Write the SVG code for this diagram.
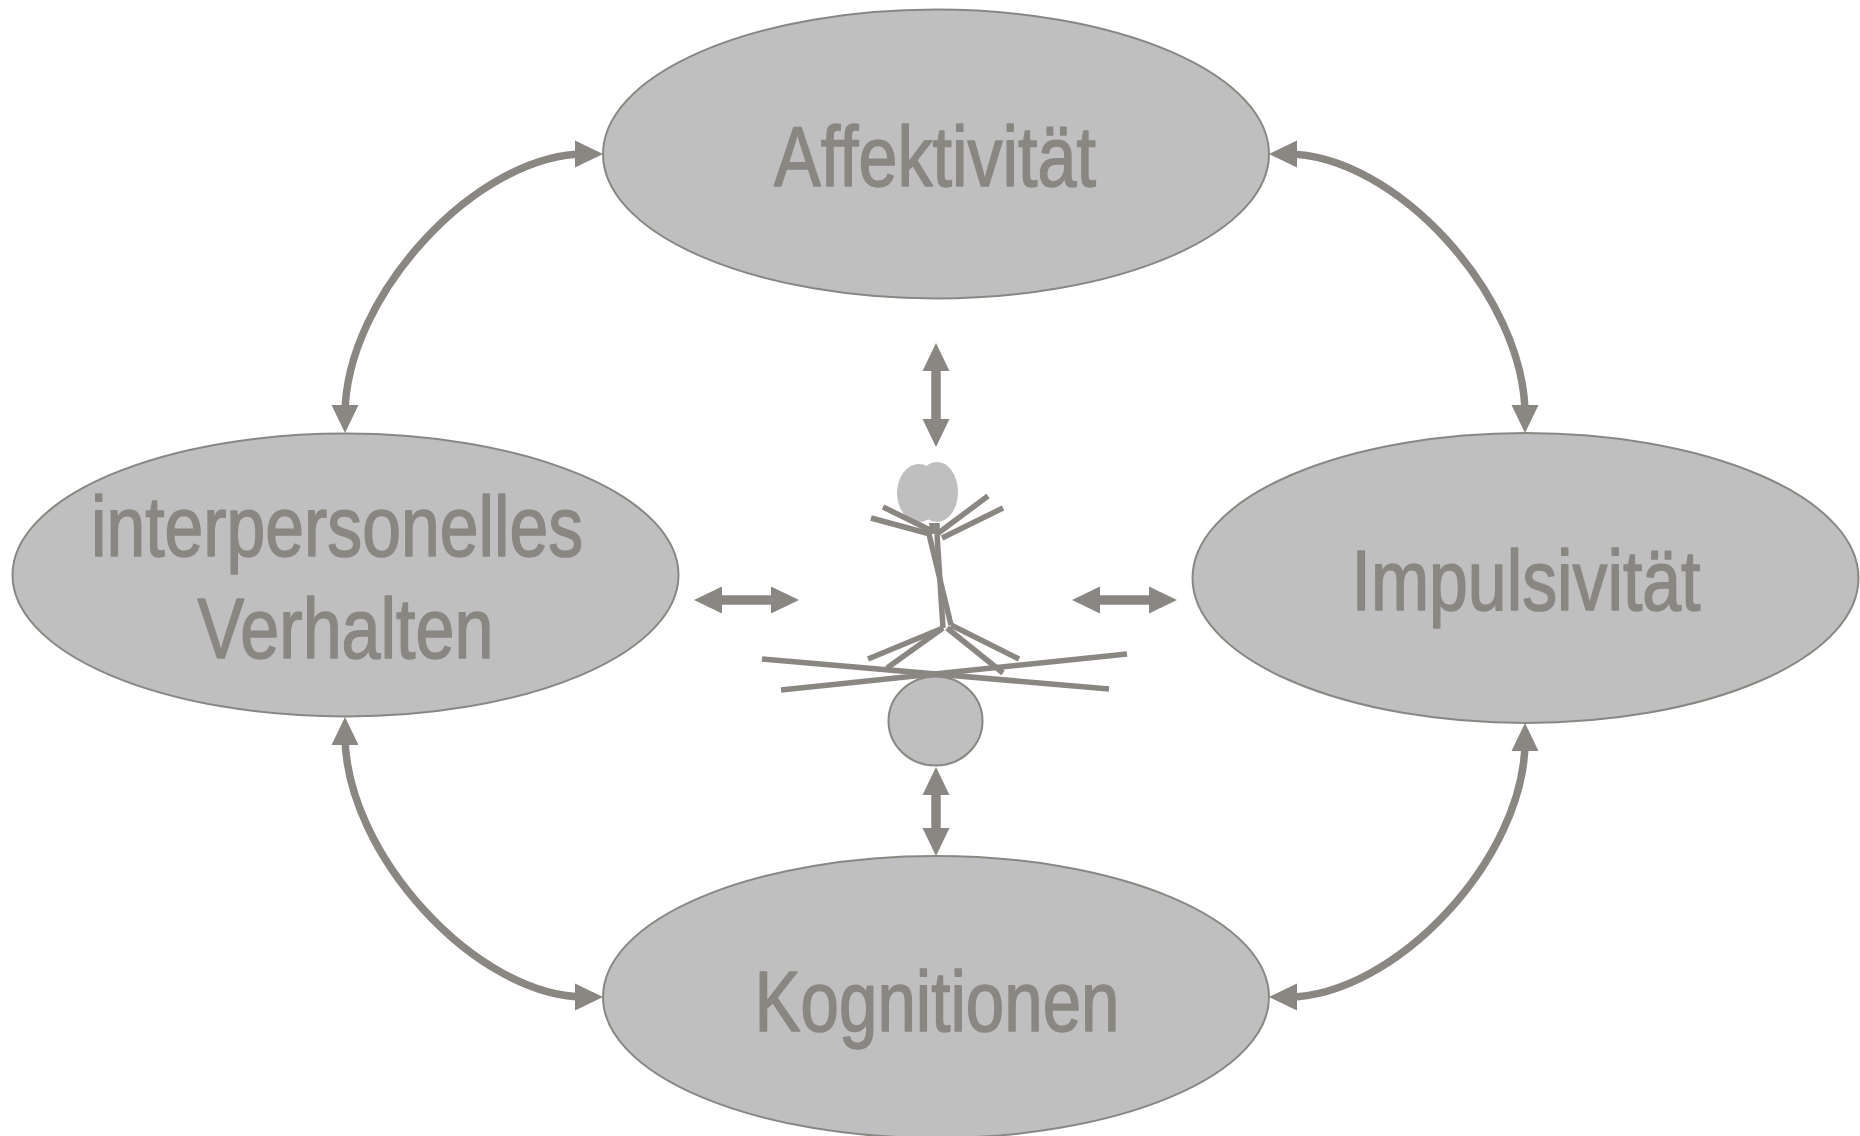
<svg xmlns="http://www.w3.org/2000/svg" width="1860" height="1136" viewBox="0 0 1860 1136">
  <style>
    .node { fill: #bfbfbf; stroke: #8a8782; stroke-width: 2; }
    .label { fill: #8a8782; stroke: #8a8782; stroke-width: 1.6; stroke-linejoin: round; font-family: "Liberation Sans Narrow", "Liberation Sans", Arial, sans-serif; font-size: 85px; text-anchor: middle; }
    .arc { fill: none; stroke: #8a8782; stroke-width: 7.5; marker-start: url(#head); marker-end: url(#head); }
    .link { fill: none; stroke: #8a8782; stroke-width: 9.5; marker-start: url(#head); marker-end: url(#head); }
    .limb { fill: none; stroke: #8a8782; stroke-width: 5.5; stroke-linecap: butt; }
  </style>
  <defs>
    <marker id="head" markerUnits="userSpaceOnUse" markerWidth="28" markerHeight="28" refX="10" refY="14" orient="auto-start-reverse">
      <path d="M0,0.5 L28,14 L0,27.5 Z" fill="#8a8782"/>
    </marker>
  </defs>

  <rect width="1860" height="1136" fill="#ffffff"/>

  <!-- connectors -->
  <g id="connectors">
    <!-- ring of curved two-way arrows between the four outer nodes -->
    <path class="arc" d="M585,154 C477,154 345,296 345,415"/>
    <path class="arc" d="M1287,154 C1395,154 1525,296 1525,415"/>
    <path class="arc" d="M345,735 C345,854 477,997 585,997"/>
    <path class="arc" d="M1525,741 C1525,858 1395,997 1287,997"/>
    <!-- short straight two-way arrows around the centre figure -->
    <line class="link" x1="936" y1="361" x2="936" y2="429"/>
    <line class="link" x1="936" y1="785" x2="936" y2="838"/>
    <line class="link" x1="712" y1="600" x2="781" y2="600"/>
    <line class="link" x1="1090" y1="600" x2="1159" y2="600"/>
  </g>

  <g id="node-affektivitaet">
    <ellipse class="node" cx="936" cy="154" rx="333" ry="144.5"/>
    <text class="label" x="935" y="186" textLength="322" lengthAdjust="spacingAndGlyphs">Affektivität</text>
  </g>

  <g id="node-interpersonelles-verhalten">
    <ellipse class="node" cx="345.5" cy="575" rx="333" ry="141.5"/>
    <text class="label" x="337" y="556" textLength="492" lengthAdjust="spacingAndGlyphs">interpersonelles</text>
    <text class="label" x="345.5" y="658" textLength="296" lengthAdjust="spacingAndGlyphs">Verhalten</text>
  </g>

  <g id="node-impulsivitaet">
    <ellipse class="node" cx="1525.5" cy="578" rx="333" ry="145"/>
    <text class="label" x="1526" y="610" textLength="349" lengthAdjust="spacingAndGlyphs">Impulsivität</text>
  </g>

  <g id="node-kognitionen">
    <ellipse class="node" cx="936" cy="997" rx="333" ry="141"/>
    <text class="label" x="937" y="1031" textLength="365" lengthAdjust="spacingAndGlyphs">Kognitionen</text>
  </g>

  <!-- balancing stick figure in the middle -->
  <g id="node-figure">
    <ellipse cx="919" cy="493" rx="22" ry="29" fill="#bfbfbf"/>
    <ellipse cx="937" cy="492" rx="21" ry="30" fill="#bfbfbf"/>
    <line class="limb" x1="932" y1="523" x2="932" y2="534"/>
    <line class="limb" x1="937" y1="523" x2="937" y2="534"/>
    <line class="limb" x1="871" y1="518" x2="930" y2="534"/>
    <line class="limb" x1="883" y1="507" x2="930" y2="530"/>
    <line class="limb" x1="988" y1="496" x2="937" y2="534"/>
    <line class="limb" x1="1003" y1="508" x2="942" y2="538"/>
    <line class="limb" x1="929" y1="534" x2="951" y2="625"/>
    <line class="limb" x1="937" y1="534" x2="943" y2="628"/>
    <line class="limb" x1="943" y1="628" x2="868" y2="659"/>
    <line class="limb" x1="943" y1="628" x2="887" y2="668"/>
    <line class="limb" x1="951" y1="625" x2="1019" y2="659"/>
    <line class="limb" x1="947" y1="628" x2="1003" y2="673"/>
    <line class="limb" x1="762" y1="659" x2="1109" y2="689"/>
    <line class="limb" x1="781" y1="690" x2="1127" y2="654"/>
    <ellipse class="node" cx="935.5" cy="721" rx="47" ry="44.5"/>
  </g>
</svg>
